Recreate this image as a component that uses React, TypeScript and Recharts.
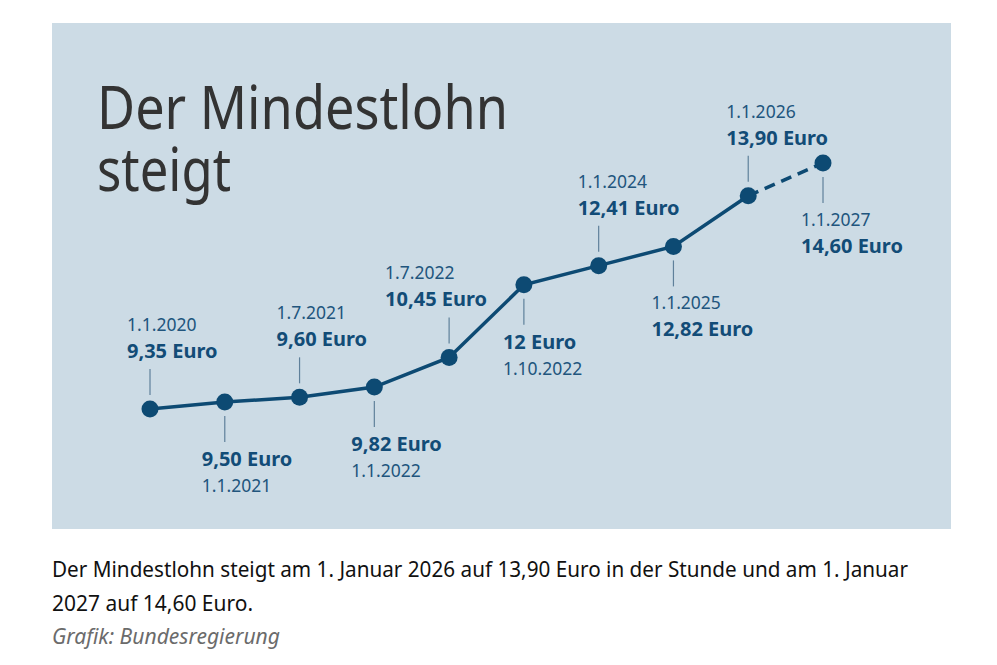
import React from 'react';
import { LineChart, Line, XAxis, YAxis } from 'recharts';

// ---- data ----
const dates = ['1.1.2020', '1.1.2021', '1.7.2021', '1.1.2022', '1.7.2022', '1.10.2022', '1.1.2024', '1.1.2025', '1.1.2026', '1.1.2027'];
const wages = [9.35, 9.5, 9.6, 9.82, 10.45, 12, 12.41, 12.82, 13.9, 14.6];
const wageLabels = ['9,35 Euro', '9,50 Euro', '9,60 Euro', '9,82 Euro', '10,45 Euro', '12 Euro', '12,41 Euro', '12,82 Euro', '13,90 Euro', '14,60 Euro'];
const lastConfirmedIndex = 8; // after this, dashed (future)

const titleLines = ['Der Mindestlohn', 'steigt'];
const captionLines = [
  'Der Mindestlohn steigt am 1. Januar 2026 auf 13,90 Euro in der Stunde und am 1. Januar',
  '2027 auf 14,60 Euro.',
];
const sourceText = 'Grafik: Bundesregierung';

// ---- layout (not data) ----
// side: 'above' | 'below'; dateFirst: for below labels, whether the date is nearer the point
const labelLayout = [
  { side: 'above', dx: -23, dateNear: false },
  { side: 'below', dx: -23, dateNear: false },
  { side: 'above', dx: -23, dateNear: false },
  { side: 'below', dx: -23, dateNear: false },
  { side: 'above', dx: -64, dateNear: false },
  { side: 'below', dx: -21, dateNear: false },
  { side: 'above', dx: -21, dateNear: false },
  { side: 'below', dx: -22, dateNear: true },
  { side: 'above', dx: -22, dateNear: false },
  { side: 'below', dx: -22, dateNear: true },
];

const chartData = wages.map((w, i) => ({
  i,
  wage: w,
  solid: i <= lastConfirmedIndex ? w : null,
  dashed: i >= lastConfirmedIndex ? w : null,
}));

const NAVY = '#0d4a73';
const TEXT = '#124c77';
const DATE = '#21557d';
const TICK = '#5f809a';
const FONT = '"Noto Sans", "Open Sans", sans-serif';

const PointMark = (props: any) => {
  const { cx, cy, index } = props;
  if (cx == null || cy == null) return null;
  const lay = labelLayout[index];
  const x = cx + lay.dx;
  const valueStyle = { fontFamily: FONT, fontWeight: 700, fontSize: 20, fill: TEXT };
  const dateStyle = { fontFamily: FONT, fontWeight: 400, fontSize: 17.5, fill: DATE };
  let tick: [number, number];
  let valueY: number;
  let dateY: number;
  if (lay.side === 'above') {
    tick = [cy - 40, cy - 14];
    valueY = cy - 51;
    dateY = cy - 78;
  } else {
    tick = [cy + 14, cy + 40];
    if (lay.dateNear) {
      dateY = cy + 63;
      valueY = cy + 90;
    } else {
      valueY = cy + 64;
      dateY = cy + 90;
    }
  }
  return (
    <g key={`pm-${index}`}>
      <line x1={cx} x2={cx} y1={tick[0]} y2={tick[1]} stroke={TICK} strokeWidth={1.2} />
      <text x={x} y={dateY} style={dateStyle}>{dates[index]}</text>
      <text x={x} y={valueY} style={valueStyle}>{wageLabels[index]}</text>
      <circle cx={cx} cy={cy} r={8.5} fill={NAVY} />
    </g>
  );
};

export default function App() {
  return (
    <div style={{ position: 'absolute', left: 0, top: 0, width: 997, height: 665, background: '#fff' }}>
      <svg width={997} height={665} style={{ position: 'absolute', left: 0, top: 0 }}>
        <rect x={52} y={23} width={899} height={506} fill="#ccdbe5" />
        <text x={97} y={129} textLength={411} lengthAdjust="spacingAndGlyphs"
          style={{ fontFamily: FONT, fontSize: 60, fill: '#333333' }}>{titleLines[0]}</text>
        <text x={97} y={191} textLength={134} lengthAdjust="spacingAndGlyphs"
          style={{ fontFamily: FONT, fontSize: 60, fill: '#333333' }}>{titleLines[1]}</text>
        <text x={52} y={577} textLength={856} lengthAdjust="spacingAndGlyphs"
          style={{ fontFamily: FONT, fontSize: 21, fill: '#111111' }}>{captionLines[0]}</text>
        <text x={52} y={611} textLength={201} lengthAdjust="spacingAndGlyphs"
          style={{ fontFamily: FONT, fontSize: 21, fill: '#111111' }}>{captionLines[1]}</text>
        <text x={52} y={644} textLength={228} lengthAdjust="spacingAndGlyphs"
          style={{ fontFamily: FONT, fontSize: 21, fontStyle: 'italic', fill: '#6b6b6b' }}>{sourceText}</text>
      </svg>
      <div style={{ position: 'absolute', left: 52, top: 23 }}>
        <LineChart width={899} height={506} data={chartData}
          margin={{ top: 74.4, right: 128, bottom: 56.7, left: 98 }}>
          <XAxis dataKey="i" type="number" domain={[0, 9]} hide />
          <YAxis type="number" domain={[8, 16]} hide />
          <Line dataKey="solid" stroke={NAVY} strokeWidth={3.5} dot={false} activeDot={false}
            isAnimationActive={false} connectNulls={false} />
          <Line dataKey="dashed" stroke={NAVY} strokeWidth={3.5} strokeDasharray="11 7" dot={false}
            activeDot={false} isAnimationActive={false} connectNulls={false} />
          <Line dataKey="wage" stroke="none" dot={<PointMark />} activeDot={false}
            isAnimationActive={false} />
        </LineChart>
      </div>
    </div>
  );
}
